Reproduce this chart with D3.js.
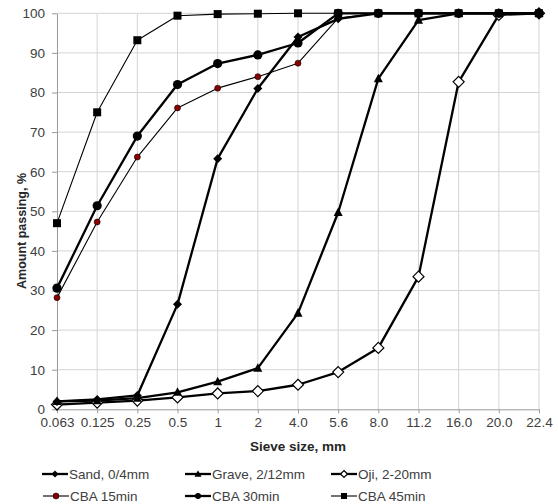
<!DOCTYPE html>
<html>
<head>
<meta charset="utf-8">
<script src="https://cdn.jsdelivr.net/npm/d3@7"></script>
<style>
  html, body { margin: 0; padding: 0; background: #fff; }
  svg { display: block; font-family: "Liberation Sans", Arial, sans-serif; }
</style>
</head>
<body>
<svg id="chart" width="558" height="504"></svg>
<script>
const categories = ["0.063", "0.125", "0.25", "0.5", "1", "2", "4.0", "5.6", "8.0", "11.2", "16.0", "20.0", "22.4"];
const yTicks = [0, 10, 20, 30, 40, 50, 60, 70, 80, 90, 100];

const sand   = [2.0, 2.5, 3.5, 26.5, 63.3, 81.0, 94.0, 98.6, 100, 100, 100, 100, 100];
const grave  = [2.0, 2.2, 2.8, 4.3, 7.0, 10.4, 24.3, 49.7, 83.5, 98.3, 100, 100, 100];
const oji    = [1.2, 1.7, 2.2, 3.0, 4.0, 4.6, 6.2, 9.4, 15.5, 33.5, 82.7, 99.6, 100];
const cba15  = [28.2, 47.3, 63.7, 76.1, 81.1, 84.0, 87.4, 98.8, 100, 100, 100, 100, 100];
const cba30  = [30.6, 51.4, 69.0, 82.0, 87.3, 89.5, 92.5, 100, 100, 100, 100, 100, 100];
const cba45  = [47.0, 75.0, 93.2, 99.4, 99.8, 99.9, 100, 100, 100, 100, 100, 100, 100];

const seriesNames = ["Sand, 0/4mm", "Grave, 2/12mm", "Oji, 2-20mm", "CBA 15min", "CBA 30min", "CBA 45min"];

const series = [
  {name: seriesNames[3], values: cba15, marker: "circle", size: 3, fill: "#8b0000", stroke: "#000", sw: 1.1, mw: 0.6},
  {name: seriesNames[5], values: cba45, marker: "square", size: 8, fill: "#000", stroke: "#000", sw: 1.1, mw: 0},
  {name: seriesNames[2], values: oji, marker: "diamond", size: 5.5, fill: "#fff", stroke: "#000", sw: 2.3, mw: 1.2},
  {name: seriesNames[1], values: grave, marker: "triangle", size: 9, fill: "#000", stroke: "#000", sw: 2.3, mw: 0},
  {name: seriesNames[0], values: sand, marker: "diamond", size: 4.5, fill: "#000", stroke: "#000", sw: 2.3, mw: 0},
  {name: seriesNames[4], values: cba30, marker: "circle", size: 4.6, fill: "#000", stroke: "#000", sw: 2.3, mw: 0}
];

const svg = d3.select("#chart");
const x = d3.scalePoint().domain(categories).range([57, 539]);
const y = d3.scaleLinear().domain([0, 100]).range([409.3, 13.3]);

// gridlines
svg.append("g").selectAll("line.h").data(yTicks.filter(d => d > 0)).join("line")
  .attr("x1", 57).attr("x2", 539)
  .attr("y1", d => y(d)).attr("y2", d => y(d))
  .attr("stroke", "#d4d4d4").attr("stroke-width", 1);
svg.append("g").selectAll("line.v").data(categories.slice(1)).join("line")
  .attr("x1", d => x(d)).attr("x2", d => x(d))
  .attr("y1", y(100)).attr("y2", y(0))
  .attr("stroke", "#d4d4d4").attr("stroke-width", 1);

// axes
const xAxis = svg.append("g").attr("transform", `translate(0,${y(0)})`)
  .call(d3.axisBottom(x).tickSizeInner(4).tickSizeOuter(0).tickPadding(4));
xAxis.select(".domain").attr("stroke", "#9a9a9a");
xAxis.selectAll(".tick line").attr("stroke", "#9a9a9a");
xAxis.selectAll("text").attr("fill", "#404040").style("font-size", "13.5px")
  .style("font-family", "Liberation Sans, Arial, sans-serif");

const yAxis = svg.append("g").attr("transform", `translate(57,0)`)
  .call(d3.axisLeft(y).tickValues(yTicks).tickSizeInner(5).tickSizeOuter(0).tickPadding(7));
yAxis.select(".domain").attr("stroke", "#9a9a9a");
yAxis.selectAll(".tick line").attr("stroke", "#9a9a9a");
yAxis.selectAll("text").attr("fill", "#404040").style("font-size", "13.5px")
  .style("font-family", "Liberation Sans, Arial, sans-serif");

// axis titles
svg.append("text").attr("x", 298).attr("y", 451).attr("text-anchor", "middle")
  .style("font-weight", "bold").style("font-size", "13.5px").attr("fill", "#262626")
  .text("Sieve size, mm");
svg.append("text").attr("transform", "translate(26,231) rotate(-90)").attr("text-anchor", "middle")
  .style("font-weight", "bold").style("font-size", "12.5px").attr("fill", "#262626")
  .text("Amount passing, %");

function drawMarker(g, s, cx, cy) {
  if (s.marker === "circle") {
    g.append("circle").attr("cx", cx).attr("cy", cy).attr("r", s.size)
      .attr("fill", s.fill).attr("stroke", s.stroke).attr("stroke-width", s.mw);
  } else if (s.marker === "square") {
    g.append("rect").attr("x", cx - s.size / 2).attr("y", cy - s.size / 2)
      .attr("width", s.size).attr("height", s.size).attr("fill", s.fill);
  } else if (s.marker === "diamond") {
    const r = s.size;
    g.append("path").attr("d", `M${cx},${cy - r}L${cx + r},${cy}L${cx},${cy + r}L${cx - r},${cy}Z`)
      .attr("fill", s.fill).attr("stroke", s.stroke).attr("stroke-width", s.mw);
  } else if (s.marker === "triangle") {
    const r = s.size / 2;
    g.append("path").attr("d", `M${cx},${cy - r * 1.1}L${cx + r},${cy + r * 0.8}L${cx - r},${cy + r * 0.8}Z`)
      .attr("fill", s.fill);
  }
}

const line = d3.line().x((d, i) => x(categories[i])).y(d => y(d));
series.forEach(s => {
  const g = svg.append("g");
  g.append("path").attr("d", line(s.values)).attr("fill", "none")
    .attr("stroke", "#000").attr("stroke-width", s.sw).attr("stroke-linejoin", "round");
  s.values.forEach((v, i) => drawMarker(g, s, x(categories[i]), y(v)));
});

// legend
const legendPos = [
  {name: seriesNames[0], x: 42, y: 474},
  {name: seriesNames[1], x: 185, y: 474},
  {name: seriesNames[2], x: 331, y: 474},
  {name: seriesNames[3], x: 43, y: 496},
  {name: seriesNames[4], x: 185, y: 496},
  {name: seriesNames[5], x: 331, y: 496}
];
legendPos.forEach(lp => {
  const s = series.find(d => d.name === lp.name);
  const g = svg.append("g");
  g.append("line").attr("x1", lp.x).attr("x2", lp.x + 26).attr("y1", lp.y).attr("y2", lp.y)
    .attr("stroke", "#000").attr("stroke-width", s.sw);
  const ms = Object.assign({}, s, {size: s.marker === "circle" ? Math.min(s.size, 3) : (s.marker === "square" ? 6 : (s.marker === "triangle" ? 7 : 3.5))});
  drawMarker(g, ms, lp.x + 13, lp.y);
  g.append("text").attr("x", lp.x + 27).attr("y", lp.y + 5)
    .style("font-size", "13.5px").attr("fill", "#404040").text(lp.name);
});
</script>
</body>
</html>
